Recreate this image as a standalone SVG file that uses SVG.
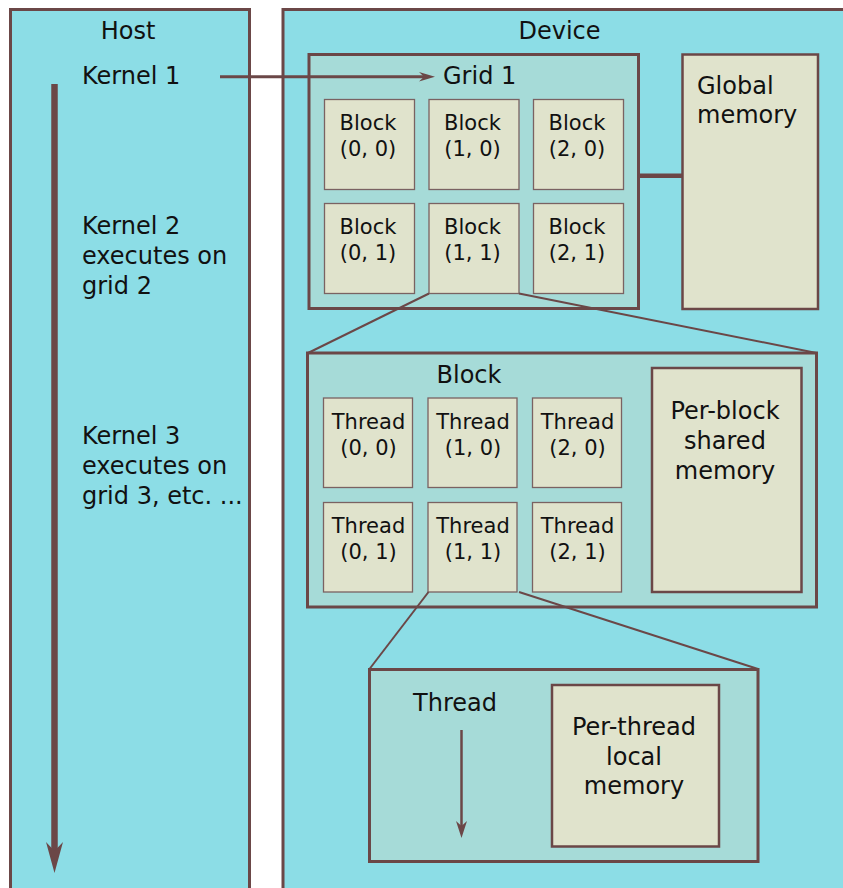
<svg xmlns="http://www.w3.org/2000/svg" width="843" height="888" viewBox="0 0 843 888">
  <style>
    .bg { fill: #ffffff; }
    .zone { fill: #8cdde6; stroke: #6b4747; stroke-width: 3; }
    .frame { fill: #a6dbd8; stroke: #6b4747; stroke-width: 3; }
    .mem { fill: #e0e3cc; stroke: #6b4747; stroke-width: 2.5; }
    .cell { fill: #e0e3cc; stroke: #7a6262; stroke-width: 1.3; }
    .big { font-family: "DejaVu Sans", "Liberation Sans", sans-serif; font-size: 24px; fill: #111111; }
    .small { font-family: "DejaVu Sans", "Liberation Sans", sans-serif; font-size: 21px; fill: #111111; text-anchor: middle; }
    .mid { text-anchor: middle; }
    .link { stroke: #6b4747; fill: none; }
    .head { fill: #6b4747; stroke: none; }
  </style>

  <rect class="bg" x="0" y="0" width="843" height="888"/>

  <!-- Host column -->
  <g id="host">
    <rect class="zone" x="10.5" y="9.5" width="239" height="900"/>
    <text class="big mid" x="128" y="39">Host</text>
    <text class="big" x="82" y="84">Kernel 1</text>
    <text class="big" x="82" y="234">Kernel 2</text>
    <text class="big" x="82" y="264">executes on</text>
    <text class="big" x="82" y="294">grid 2</text>
    <text class="big" x="82" y="444">Kernel 3</text>
    <text class="big" x="82" y="474">executes on</text>
    <text class="big" x="82" y="504">grid 3, etc. ...</text>
  </g>

  <!-- Device area -->
  <g id="device">
    <rect class="zone" x="283" y="9.5" width="600" height="900"/>
    <text class="big mid" x="559.5" y="38.5">Device</text>
  </g>

  <!-- Grid 1 with its blocks -->
  <g id="grid1">
    <rect class="frame" x="309" y="54.5" width="329.5" height="254"/>
    <text class="big" x="443" y="83.5">Grid 1</text>
  </g>
  <g id="block-0-0">
    <rect class="cell" x="324.5" y="99.5" width="90" height="90"/>
    <text class="small" x="368" y="129.5">Block</text>
    <text class="small" x="368" y="155.5">(0, 0)</text>
  </g>
  <g id="block-1-0">
    <rect class="cell" x="429" y="99.5" width="90" height="90"/>
    <text class="small" x="472.5" y="129.5">Block</text>
    <text class="small" x="472.5" y="155.5">(1, 0)</text>
  </g>
  <g id="block-2-0">
    <rect class="cell" x="533.5" y="99.5" width="90" height="90"/>
    <text class="small" x="577" y="129.5">Block</text>
    <text class="small" x="577" y="155.5">(2, 0)</text>
  </g>
  <g id="block-0-1">
    <rect class="cell" x="324.5" y="203.5" width="90" height="90"/>
    <text class="small" x="368" y="233.5">Block</text>
    <text class="small" x="368" y="259.5">(0, 1)</text>
  </g>
  <g id="block-1-1">
    <rect class="cell" x="429" y="203.5" width="90" height="90"/>
    <text class="small" x="472.5" y="233.5">Block</text>
    <text class="small" x="472.5" y="259.5">(1, 1)</text>
  </g>
  <g id="block-2-1">
    <rect class="cell" x="533.5" y="203.5" width="90" height="90"/>
    <text class="small" x="577" y="233.5">Block</text>
    <text class="small" x="577" y="259.5">(2, 1)</text>
  </g>

  <!-- Global memory -->
  <g id="global-memory">
    <rect class="mem" x="682.5" y="54.5" width="135.5" height="254.5"/>
    <text class="big" x="697" y="93.5">Global</text>
    <text class="big" x="697" y="123">memory</text>
  </g>

  <!-- Block detail with its threads -->
  <g id="block">
    <rect class="frame" x="307.5" y="353" width="509" height="254"/>
    <text class="big mid" x="469" y="383">Block</text>
  </g>
  <g id="thread-0-0">
    <rect class="cell" x="323.5" y="398" width="89" height="89.5"/>
    <text class="small" x="368.5" y="428.5">Thread</text>
    <text class="small" x="368.5" y="454.5">(0, 0)</text>
  </g>
  <g id="thread-1-0">
    <rect class="cell" x="428" y="398" width="89" height="89.5"/>
    <text class="small" x="473" y="428.5">Thread</text>
    <text class="small" x="473" y="454.5">(1, 0)</text>
  </g>
  <g id="thread-2-0">
    <rect class="cell" x="532.5" y="398" width="89" height="89.5"/>
    <text class="small" x="577.5" y="428.5">Thread</text>
    <text class="small" x="577.5" y="454.5">(2, 0)</text>
  </g>
  <g id="thread-0-1">
    <rect class="cell" x="323.5" y="502.5" width="89" height="89.5"/>
    <text class="small" x="368.5" y="533">Thread</text>
    <text class="small" x="368.5" y="559">(0, 1)</text>
  </g>
  <g id="thread-1-1">
    <rect class="cell" x="428" y="502.5" width="89" height="89.5"/>
    <text class="small" x="473" y="533">Thread</text>
    <text class="small" x="473" y="559">(1, 1)</text>
  </g>
  <g id="thread-2-1">
    <rect class="cell" x="532.5" y="502.5" width="89" height="89.5"/>
    <text class="small" x="577.5" y="533">Thread</text>
    <text class="small" x="577.5" y="559">(2, 1)</text>
  </g>

  <!-- Per-block shared memory -->
  <g id="shared-memory">
    <rect class="mem" x="652" y="368" width="149.5" height="224" stroke-width="2"/>
    <text class="big mid" x="725" y="419">Per-block</text>
    <text class="big mid" x="725" y="449">shared</text>
    <text class="big mid" x="725" y="479">memory</text>
  </g>

  <!-- Thread detail -->
  <g id="thread">
    <rect class="frame" x="369.5" y="669.5" width="388.5" height="192"/>
    <text class="big mid" x="455" y="711">Thread</text>
  </g>

  <!-- Per-thread local memory -->
  <g id="local-memory">
    <rect class="mem" x="552" y="685" width="167" height="161.5" stroke-width="2"/>
    <text class="big mid" x="634" y="735">Per-thread</text>
    <text class="big mid" x="634" y="764.5">local</text>
    <text class="big mid" x="634" y="794">memory</text>
  </g>

  <!-- Connectors -->
  <g id="connectors">
    <!-- host timeline -->
    <line class="link" x1="54.5" y1="84" x2="54.5" y2="852" stroke-width="6.5"/>
    <polygon class="head" points="54.5,873 46,842 54.5,851 63,842"/>
    <!-- kernel launch -->
    <line class="link" x1="220" y1="76.8" x2="425" y2="76.8" stroke-width="3"/>
    <polygon class="head" points="435,76.8 419,72 424,76.8 419,81.6"/>
    <!-- grid to global memory -->
    <line class="link" x1="638.5" y1="175.8" x2="682.5" y2="175.8" stroke-width="4.5"/>
    <!-- block zoom -->
    <line class="link" x1="429" y1="293.5" x2="308" y2="353" stroke-width="2"/>
    <line class="link" x1="519" y1="293.5" x2="816.5" y2="353" stroke-width="2"/>
    <!-- thread zoom -->
    <line class="link" x1="428.5" y1="592" x2="369.5" y2="669" stroke-width="2"/>
    <line class="link" x1="519" y1="592" x2="758" y2="669" stroke-width="2"/>
    <!-- thread execution -->
    <line class="link" x1="461.5" y1="730" x2="461.5" y2="827" stroke-width="2.5"/>
    <polygon class="head" points="461.5,838 456,821 461.5,826 467,821"/>
  </g>
</svg>
